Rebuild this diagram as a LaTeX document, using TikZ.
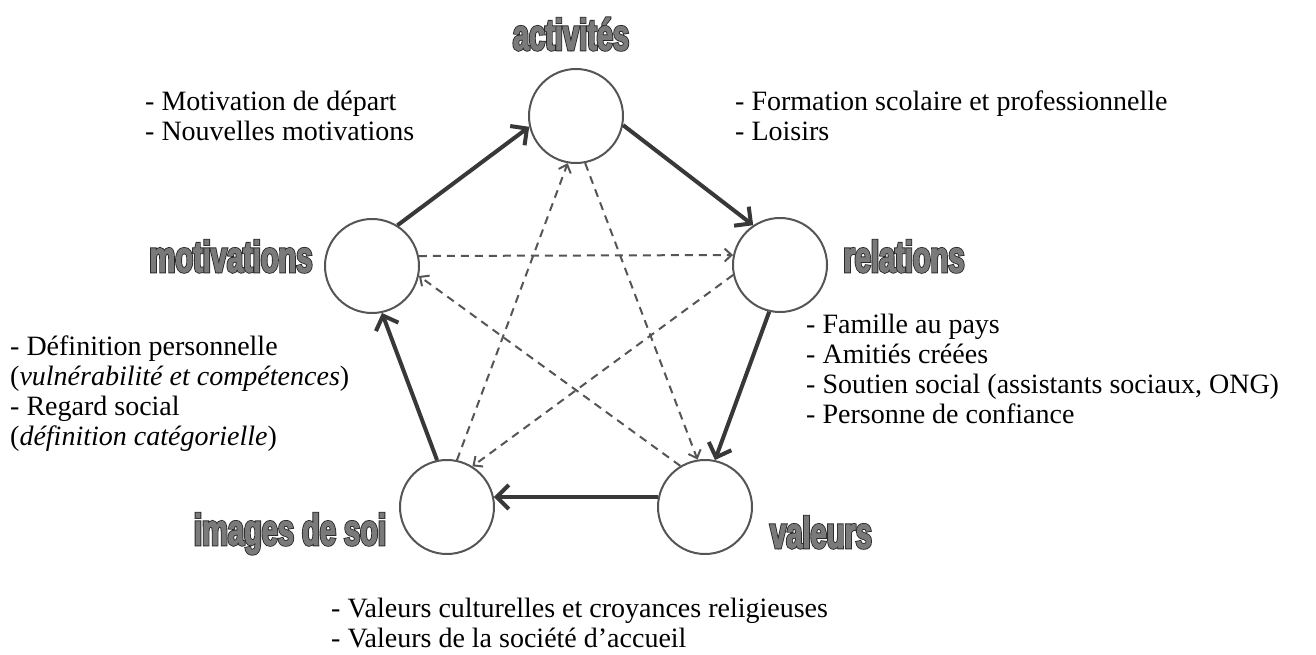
\documentclass[tikz,border=0pt]{standalone}
\usepackage{fontspec}
\setmainfont{Liberation Serif}
\newfontfamily\lblfillfont{Liberation Sans}[BoldFeatures={FakeStretch=0.66,FakeBold=2}]
\newfontfamily\lbledgefont{Liberation Sans}[BoldFeatures={FakeStretch=0.66,FakeBold=6}]
\usetikzlibrary{arrows.meta}
\definecolor{circgray}{HTML}{555555}
\definecolor{arrowgray}{HTML}{383838}
\definecolor{dashgray}{HTML}{555555}
\definecolor{lblfill}{HTML}{7A7A7A}
\definecolor{lbledge}{HTML}{2A2A2A}
\begin{document}
\begin{tikzpicture}[x=1pt,y=-1pt,
  circ/.style={circle, draw=circgray, line width=2, minimum size=94, inner sep=0, fill=white},
  solidarr/.style={draw=arrowgray, line width=4, -{Straight Barb[length=12,width=24]}},
  dasharr/.style={draw=dashgray, line width=2, dash pattern=on 8 off 6, -{Straight Barb[length=7,width=13]}},
  lbledgestyle/.style={font={\lbledgefont\bfseries\fontsize{44}{44}\selectfont}, text=lbledge, inner sep=0, anchor=base},
  lblfillstyle/.style={font={\lblfillfont\bfseries\fontsize{44}{44}\selectfont}, text=lblfill, inner sep=0, anchor=base},
  txt/.style={font={\fontsize{28}{30}\selectfont}, align=left, inner sep=0, anchor=base west}
]
\useasboundingbox (0,0) rectangle (1316,655);
\fill[white] (0,0) rectangle (1316,655);

% circles
\node[circ] (act) at (576,116) {};
\node[circ] (mot) at (372,266) {};
\node[circ] (rel) at (780,265) {};
\node[circ] (img) at (447,507) {};
\node[circ] (val) at (705,507) {};

% labels (dark outline layer under grey fill layer)
\node[lbledgestyle] (actE) at (571,50) {activités};
\node[lblfillstyle] (actF) at (571,50) {activités};
\node[lbledgestyle] (motE) at (231,272) {motivations};
\node[lblfillstyle] (motF) at (231,272) {motivations};
\node[lbledgestyle] (relE) at (904,272) {relations};
\node[lblfillstyle] (relF) at (904,272) {relations};
\node[lbledgestyle] (imgE) at (290,545) {images de soi};
\node[lblfillstyle] (imgF) at (290,545) {images de soi};
\node[lbledgestyle] (valE) at (821,548) {valeurs};
\node[lblfillstyle] (valF) at (821,548) {valeurs};

% solid cycle
\draw[solidarr] (mot.58) -- (act.193);
\draw[solidarr] (act.-11) -- (rel.124);
\draw[solidarr] (rel.257) -- (val.78);
\draw[solidarr] (val.168) -- (img.12);
\draw[solidarr] (img.102) -- (mot.-78);

% dashed star
\draw[dasharr] (mot.12) -- (rel.168);
\draw[dasharr] (val.121) -- (mot.-12);
\draw[dasharr] (rel.192) -- (img.58);
\draw[dasharr] (img.78) -- (act.-100);
\draw[dasharr] (act.-79) -- (val.99);

% texts (anchor = baseline of the last line)
\node[txt] (t1) at (145,141) {- Motivation de départ\\- Nouvelles motivations};
\node[txt] (t2) at (735,141) {- Formation scolaire et professionnelle\\- Loisirs};
\node[txt] (t3) at (806,423) {- Famille au pays\\- Amitiés créées\\- Soutien social (assistants sociaux, ONG)\\- Personne de confiance};
\node[txt] (t4) at (10,445) {- Définition personnelle\\(\textit{vulnérabilité et compétences})\\- Regard social\\(\textit{définition catégorielle})};
\node[txt] (t5) at (331,647) {- Valeurs culturelles et croyances religieuses\\- Valeurs de la société d’accueil};
\end{tikzpicture}
\end{document}
